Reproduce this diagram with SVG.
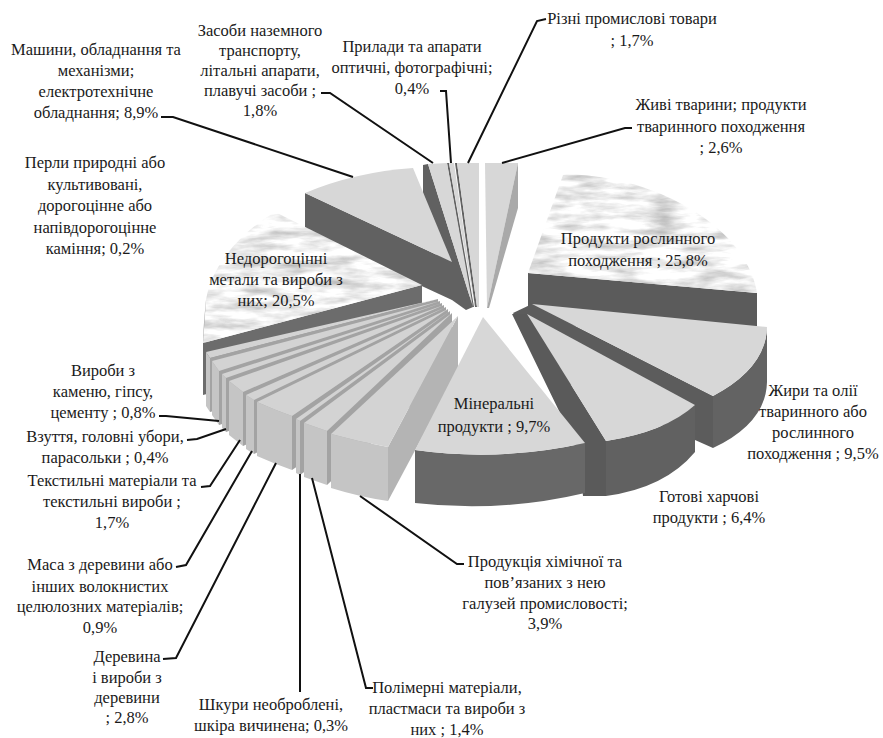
<svg xmlns="http://www.w3.org/2000/svg" width="883" height="738" viewBox="0 0 883 738">
<defs>
<style>
text{font-family:'Liberation Serif','DejaVu Serif',serif;font-size:16.5px;fill:#1a1a1a;text-anchor:middle}
.tp{fill:#d7d7d7}
.dk{fill:#616161}
.md{fill:#a9a9a9}
.rf{fill:#a3a3a3}
.rm{fill:#c5c5c5}
.tg{fill:#d3d3d3}
.ld{fill:none;stroke:#111;stroke-width:2;stroke-linejoin:miter}
.mb{fill:#e8e8e8;filter:url(#marble)}
</style>
<filter id="marble" x="0%" y="0%" width="100%" height="100%" color-interpolation-filters="sRGB">
<feTurbulence type="fractalNoise" baseFrequency="0.025 0.1" numOctaves="4" seed="11" result="n"/>
<feColorMatrix in="n" type="matrix" values="0.55 0 0 0 0.66  0.55 0 0 0 0.66  0.55 0 0 0 0.66  0 0 0 0 1" result="g"/>
<feComposite in="g" in2="SourceGraphic" operator="in"/>
</filter>
</defs>
<rect width="883" height="738" fill="#fff"/>

<g id="slice-zhyvi">
<path class="tp" d="M485,163 L518,163 L487,308 Z"/>
<path class="md" d="M518,163 L518,208 L489,308 L487,308 Z"/>
<text x="721" y="110">Живі тварини; продукти</text>
<text x="721" y="132">тваринного походження</text>
<text x="721" y="153">; 2,6%</text>
</g>

<g id="slice-rizni">
<path class="dk" d="M455,163 L457,163 L477,307 L475,307 Z"/>
<path class="tp" d="M457,163 L479,163 L479,307 L477,307 Z"/>
<text x="632" y="24">Різні промислові товари</text>
<text x="632" y="46">; 1,7%</text>
</g>

<g id="slice-prylady">
<path class="dk" d="M447,163 L449,163 L474,307 L472,307 Z"/>
<path class="tp" d="M449,163 L454,163 L475,307 Z"/>
<text x="412" y="52">Прилади та апарати</text>
<text x="412" y="73">оптичні, фотографічні;</text>
<text x="412" y="94">0,4%</text>
</g>

<g id="slice-zasoby">
<path class="dk" d="M423,165 L428,164 L473,307 L466,310 L452,300 L423,215 Z"/>
<path class="tp" d="M428,164 L447,163 L473,307 Z"/>
<text x="260" y="36">Засоби наземного</text>
<text x="260" y="56">транспорту,</text>
<text x="260" y="76">літальні апарати,</text>
<text x="260" y="96">плавучі засоби ;</text>
<text x="260" y="116">1,8%</text>
</g>

<g id="slice-mashyny">
<path class="dk" d="M305,193 L452,262 L452,300 L305,232 Z"/>
<path class="tp" d="M305,193 Q355,172 413,168 L452,262 Z"/>
<text x="96" y="55">Машини, обладнання та</text>
<text x="96" y="76">механізми;</text>
<text x="96" y="97">електротехнічне</text>
<text x="96" y="118">обладнання; 8,9%</text>
</g>

<g id="slice-perly">
<text x="95" y="168">Перли природні або</text>
<text x="95" y="190">культивовані,</text>
<text x="95" y="211">дорогоцінне або</text>
<text x="95" y="233">напівдорогоцінне</text>
<text x="95" y="254">каміння; 0,2%</text>
</g>

<g id="slice-roslynni">
<path fill="#5b5b5b" d="M528,273 L757,293 L757,340 L528,322 Z"/>
<path class="mb" d="M528,273 L563,175 C640,172 745,220 757,293 Z"/>
<text x="638" y="244">Продукти рослинного</text>
<text x="638" y="266">походження ; 25,8%</text>
</g>

<g id="slice-metaly">
<path fill="#a0a0a0" d="M206,300 C204,320 203,335 203,343 L203,390 C204,370 206,345 206,330 Z"/>
<path fill="#6c6c6c" d="M203,343 L422,285 L422,337 L203,395 Z"/>
<path class="mb" d="M422,285 L275,212 C245,230 212,262 206,300 L203,343 Z"/>
<text x="276" y="264">Недорогоцінні</text>
<text x="276" y="285">метали та вироби з</text>
<text x="276" y="306">них; 20,5%</text>
</g>

<g id="slice-other">
<path class="rf" d="M438,299 L210,358 L210,412 L438,353 Z"/>
<path class="rm" d="M206,352 L210,358 L210,412 L206,406 Z"/>
<path class="tg" d="M438,299 L206,352 L210,358 Z"/>
</g>

<g id="slice-kamin">
<path class="rf" d="M440,301 L219,371 L219,425 L440,355 Z"/>
<path class="rm" d="M212,361 L219,371 L219,425 L212,415 Z"/>
<path class="tg" d="M440,301 L212,361 L219,371 Z"/>
<text x="103" y="376">Вироби з</text>
<text x="103" y="397">каменю, гіпсу,</text>
<text x="103" y="418">цементу ; 0,8%</text>
</g>

<g id="slice-vzuttia">
<path class="rf" d="M442,303 L226,378 L226,432 L442,357 Z"/>
<path class="rm" d="M222,374 L226,378 L226,432 L222,428 Z"/>
<path class="tg" d="M442,303 L222,374 L226,378 Z"/>
<text x="105" y="442">Взуття, головні убори,</text>
<text x="105" y="463">парасольки ; 0,4%</text>
</g>

<g id="slice-tekstyl">
<path class="rf" d="M444,305 L243,392 L243,446 L444,359 Z"/>
<path class="rm" d="M229,381 L243,392 L243,446 L229,435 Z"/>
<path class="tg" d="M444,305 L229,381 L243,392 Z"/>
<text x="112" y="486">Текстильні матеріали та</text>
<text x="112" y="507">текстильні вироби ;</text>
<text x="112" y="528">1,7%</text>
</g>

<g id="slice-masa">
<path class="rf" d="M446,307 L254,400 L254,454 L446,361 Z"/>
<path class="rm" d="M246,395 L254,400 L254,454 L246,449 Z"/>
<path class="tg" d="M446,307 L246,395 L254,400 Z"/>
<text x="100" y="570">Маса з деревини або</text>
<text x="100" y="592">інших волокнистих</text>
<text x="100" y="612">целюлозних матеріалів;</text>
<text x="100" y="633">0,9%</text>
</g>

<g id="slice-derevyna">
<path class="rf" d="M448,309 L292,416 L292,470 L448,363 Z"/>
<path class="rm" d="M257,402 Q275,410 292,416 L292,470 Q275,464 257,456 Z"/>
<path class="tg" d="M448,309 L257,402 Q275,410 292,416 Z"/>
<text x="127" y="662">Деревина</text>
<text x="127" y="683">і вироби з</text>
<text x="127" y="703">деревини</text>
<text x="127" y="723">; 2,8%</text>
</g>

<g id="slice-shkury">
<path class="rf" d="M450,311 L300,421 L300,475 L450,365 Z"/>
<path class="rm" d="M296,419 L300,421 L300,475 L296,473 Z"/>
<path class="tg" d="M450,311 L296,419 L300,421 Z"/>
<text x="271" y="710">Шкури необроблені,</text>
<text x="271" y="731">шкіра вичинена; 0,3%</text>
</g>

<g id="slice-polimery">
<path class="rf" d="M452,313 L327,431 L327,485 L452,367 Z"/>
<path class="rm" d="M304,423 L327,431 L327,485 L304,477 Z"/>
<path class="tg" d="M452,313 L304,423 L327,431 Z"/>
<text x="447" y="693">Полімерні матеріали,</text>
<text x="447" y="714">пластмаси та вироби з</text>
<text x="447" y="735">них ; 1,4%</text>
</g>

<g id="slice-khimiia">
<path fill="#b4b4b4" d="M458,316 L388,447 L388,501 L458,370 Z"/>
<path class="rm" d="M331,434 Q360,442 388,447 L388,501 Q360,497 331,488 Z"/>
<path class="tg" d="M458,316 L331,434 Q360,442 388,447 Z"/>
<text x="545" y="567">Продукція хімічної та</text>
<text x="545" y="588">пов’язаних з нею</text>
<text x="545" y="609">галузей промисловості;</text>
<text x="545" y="629">3,9%</text>
</g>

<g id="slice-zhyry">
<path fill="#5c5c5c" d="M513,313 L532,304 L713,396 L713,448 L560,380 Z"/>
<path fill="#636363" d="M767,327 Q766,368 713,396 L713,448 Q766,423 767,382 Z"/>
<path class="tp" d="M532,304 L767,327 Q766,368 713,396 Z"/>
<text x="813" y="396">Жири та олії</text>
<text x="813" y="417">тваринного або</text>
<text x="813" y="438">рослинного</text>
<text x="813" y="459">походження ; 9,5%</text>
</g>

<g id="slice-hotovi">
<path fill="#5a5a5a" d="M512,314 L527,314 L606,441 L606,496 L583,496 L578,450 Z"/>
<path fill="#616161" d="M695,405 Q665,432 606,441 L606,496 Q665,488 695,452 Z"/>
<path class="tp" d="M527,314 L695,405 Q665,432 606,441 Z"/>
<text x="709" y="502">Готові харчові</text>
<text x="709" y="523">продукти ; 6,4%</text>
</g>

<g id="slice-mineralni">
<path fill="#686868" d="M415,450 Q500,462 585,443 L585,493 Q500,513 415,503 Z"/>
<path class="tp" d="M483,317 L415,450 Q500,462 585,443 Z"/>
<text x="494" y="409">Мінеральні</text>
<text x="494" y="432">продукти ; 9,7%</text>
</g>

<g id="connectors">
<path class="ld" d="M161,117 L173,117 L353,177"/>
<path class="ld" d="M321,93 L330,93 L433,163"/>
<path class="ld" d="M440,91 L446,91 L451,163"/>
<path class="ld" d="M546,19 L537,21 L468,163"/>
<path class="ld" d="M502,163 L625,128 L632,128"/>
<path class="ld" d="M159,416 L166,416 L219,421"/>
<path class="ld" d="M187,440 L197,439 L226,429"/>
<path class="ld" d="M201,487 L210,486 L240,440"/>
<path class="ld" d="M176,567 L186,565 L252,451"/>
<path class="ld" d="M163,659 L176,658 L276,463"/>
<path class="ld" d="M300,474 L300,692"/>
<path class="ld" d="M312,478 L366,688 L373,688"/>
<path class="ld" d="M360,496 L457,564 L464,564"/>
</g>
</svg>
